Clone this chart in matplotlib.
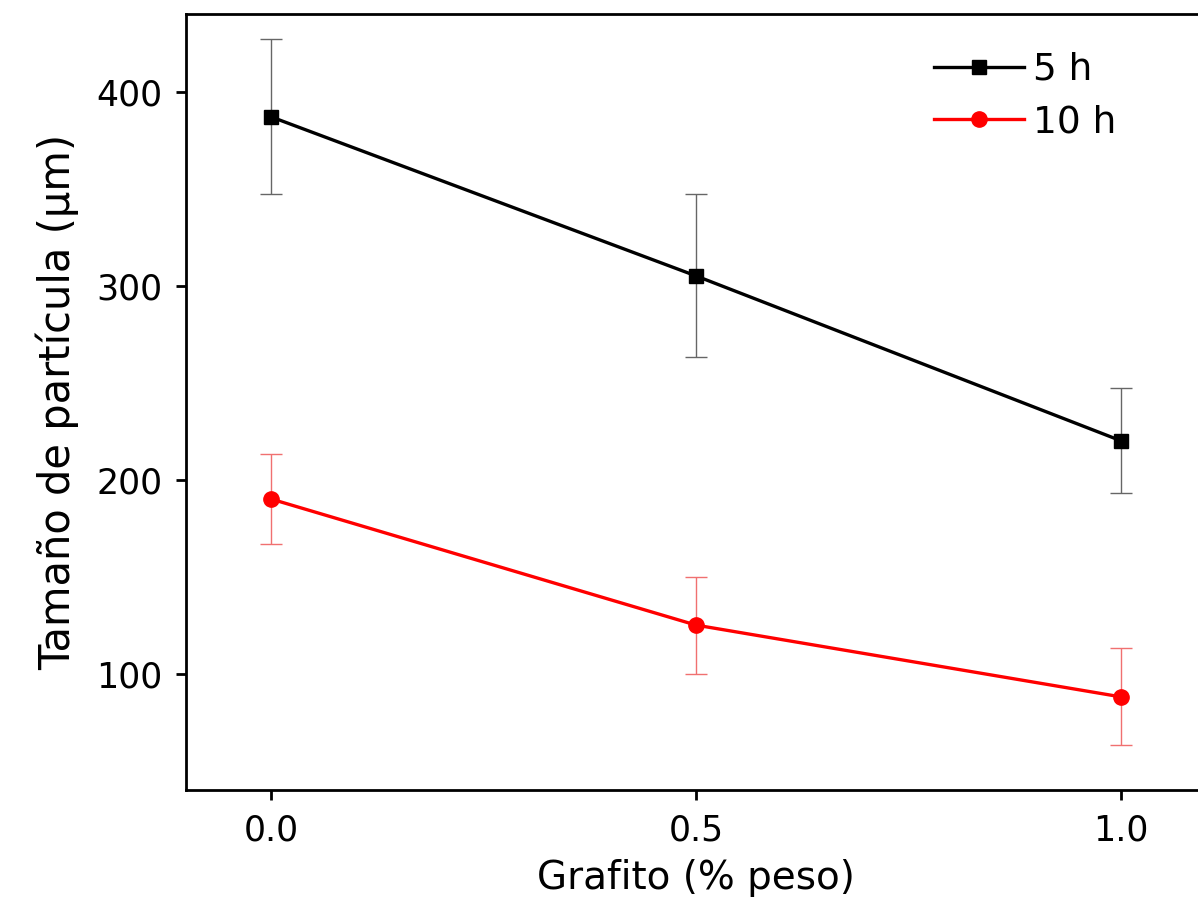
import matplotlib
matplotlib.use('Agg')
import matplotlib.pyplot as plt

grafito = [0.0, 0.5, 1.0]
tam_5h = [387, 305, 220]
err_5h = [40, 42, 27]
tam_10h = [190, 125, 88]
err_10h = [23, 25, 25]

plt.rcParams['font.family'] = ['DejaVu Sans']

fig = plt.figure(figsize=(11.98, 9.01), dpi=100)
ax = fig.add_axes([186 / 1198, 111 / 901, 1020 / 1198, 776 / 901])

# barras de error finas, luego las lineas con marcadores
ax.errorbar(grafito, tam_5h, yerr=err_5h, fmt='none', ecolor='#666666',
            elinewidth=1.0, capsize=8, capthick=1.0, zorder=2)
ax.errorbar(grafito, tam_10h, yerr=err_10h, fmt='none', ecolor='#f07070',
            elinewidth=1.0, capsize=8, capthick=1.0, zorder=2)
ax.plot(grafito, tam_5h, '-s', color='black', lw=2.4, ms=10, label='5 h', zorder=3)
ax.plot(grafito, tam_10h, '-o', color='red', lw=2.4, ms=11, label='10 h', zorder=3)

ax.set_xlim(-0.1, 1.1)
ax.set_ylim(40, 440)
ax.set_xticks([0.0, 0.5, 1.0])
ax.set_xticklabels(['0.0', '0.5', '1.0'])
ax.set_yticks([100, 200, 300, 400])

for s in ax.spines.values():
    s.set_linewidth(2.0)
ax.tick_params(direction='out', length=7, width=2.0, labelsize=25, pad=10,
               top=False, right=False)

ax.set_xlabel('Grafito (% peso)', fontsize=28, labelpad=8)
ax.set_ylabel('Tamaño de partícula (µm)', fontsize=30, labelpad=12)

ax.legend(loc='upper left', bbox_to_anchor=(0.70, 0.995), frameon=False,
          fontsize=27, handlelength=2.4, handletextpad=0.25, labelspacing=0.45)

fig.savefig('out.png', dpi=100)
